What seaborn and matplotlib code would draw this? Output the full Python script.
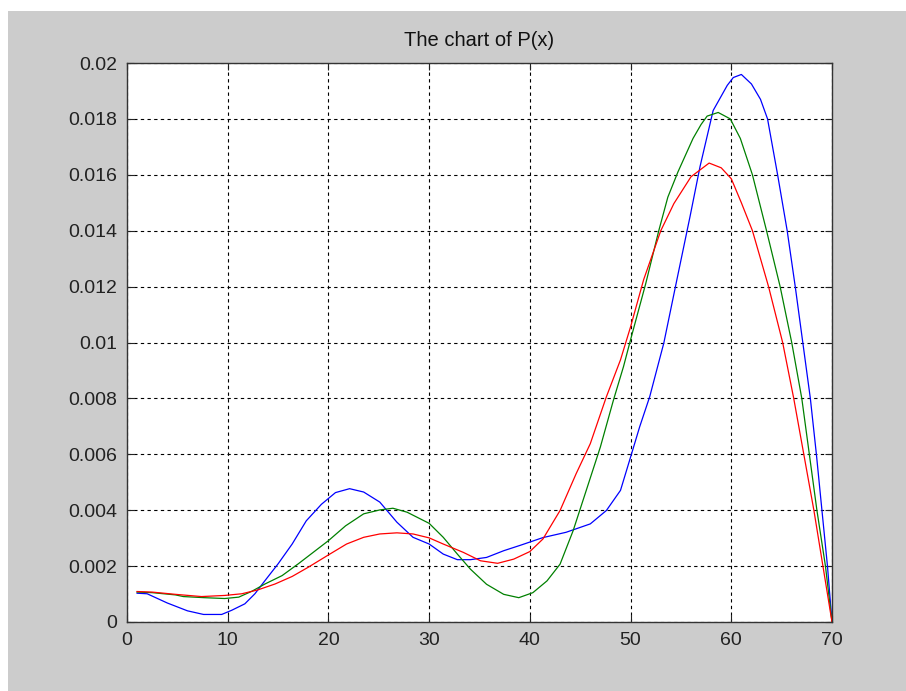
import matplotlib
matplotlib.use("Agg")
import matplotlib.pyplot as plt
from matplotlib.patches import Rectangle
import seaborn as sns
import pandas as pd

title = "The chart of P(x)"

blue_x = [1, 2, 4, 6, 7.6, 9.4, 10.4, 11.7, 12.7, 13.7, 15, 16.4, 17.8, 19.3, 20.7,
          22.1, 23.5, 25.1, 26.8, 28.4, 30, 31.4, 32.8, 34.1, 35.7, 37.4, 39.1, 41.3,
          43.6, 46, 47.6, 49, 50, 50.9, 51.9, 53.3, 54.6, 55.9, 56.9, 58.2, 59.6, 60.2,
          61.0, 62.0, 62.9, 63.6, 64.6, 65.55, 66.35, 67.1, 67.85, 68.45, 69.0, 69.55, 70]
blue_y = [1.03, 1.01, 0.68, 0.40, 0.27, 0.27, 0.42, 0.65, 1.01, 1.48, 2.08, 2.79, 3.62,
          4.21, 4.63, 4.77, 4.65, 4.29, 3.57, 3.03, 2.79, 2.43, 2.23, 2.23, 2.31, 2.55,
          2.75, 3.02, 3.21, 3.51, 3.99, 4.71, 5.9, 6.98, 8.06, 9.98, 12.25, 14.5, 16.3,
          18.3, 19.2, 19.48, 19.59, 19.25, 18.7, 18.0, 16.0, 14.0, 12.0, 10.0, 8.0, 6.0,
          4.0, 2.0, 0.0]

green_x = [1, 2.5, 4.8, 5.6, 7.7, 9.7, 11.1, 12.4, 13.7, 15.4, 17.0, 18.7, 20.0, 21.7,
           23.5, 25.1, 26.4, 27.8, 30, 31.4, 32.8, 34.1, 35.7, 37.4, 38.9, 40.3, 41.7,
           43.0, 44.3, 45.6, 47.0, 48.3, 49.3, 50, 50.9, 51.5, 52.8, 53.7, 54.7, 56.2,
           57.0, 57.6, 58.7, 59.9, 60.9, 62.1, 63.5, 64.85, 66.0, 67.0, 67.75, 68.5,
           69.35, 70]
green_y = [1.07, 1.05, 0.97, 0.91, 0.87, 0.84, 0.89, 1.10, 1.36, 1.66, 2.08, 2.55, 2.91,
           3.44, 3.87, 4.01, 4.07, 3.93, 3.53, 3.03, 2.43, 1.89, 1.35, 0.99, 0.87, 1.05,
           1.47, 2.07, 3.27, 4.71, 6.26, 7.94, 9.14, 10.1, 11.3, 12.1, 14.0, 15.2, 16.1,
           17.3, 17.8, 18.1, 18.23, 18.0, 17.3, 16.0, 14.0, 12.0, 10.0, 8.0, 6.0, 4.0,
           2.0, 0.0]

red_x = [1, 2.5, 4.8, 7.4, 9.7, 11.4, 13.0, 14.7, 16.4, 18.0, 20.0, 21.8, 23.5, 25.1,
         26.8, 28.4, 30, 31.4, 33.4, 35.1, 36.8, 38.4, 40, 41.3, 43.0, 44.6, 46.0, 47.6,
         49.0, 50, 51.3, 53, 54.3, 56, 57.8, 59.0, 60.0, 61.0, 62.1, 63.7, 65.1, 66.2,
         67.2, 68.2, 69.1, 70]
red_y = [1.09, 1.07, 0.99, 0.91, 0.95, 1.01, 1.15, 1.36, 1.63, 1.96, 2.40, 2.79, 3.03,
         3.15, 3.19, 3.15, 3.01, 2.79, 2.49, 2.19, 2.10, 2.25, 2.52, 2.97, 3.99, 5.31,
         6.38, 8.06, 9.38, 10.56, 12.25, 14.0, 14.97, 15.93, 16.42, 16.25, 15.86, 15.0,
         14.0, 12.0, 10.0, 8.0, 6.0, 4.0, 2.0, 0.0]

x_ticks = [0, 10, 20, 30, 40, 50, 60, 70]
y_ticks = [0, 0.002, 0.004, 0.006, 0.008, 0.01, 0.012, 0.014, 0.016, 0.018, 0.02]
y_tick_labels = ["0", "0.002", "0.004", "0.006", "0.008", "0.01", "0.012",
                 "0.014", "0.016", "0.018", "0.02"]

plt.rcParams['font.family'] = ['Liberation Sans', 'DejaVu Sans']

fig = plt.figure(figsize=(9.06, 6.91), dpi=100, facecolor='white')
fig.patches.append(Rectangle((8 / 906, 0), 1 - 8 / 906, 1 - 11 / 691,
                             transform=fig.transFigure, facecolor='#cccccc',
                             edgecolor='none', zorder=-10))
ax = fig.add_axes([127 / 906, 1 - 622 / 691, 705 / 906, 559 / 691])
ax.set_facecolor('white')

series = [(blue_x, blue_y, '#0000ff'), (green_x, green_y, '#008000'),
          (red_x, red_y, '#ff0000')]
for xs, ys, col in series:
    df = pd.DataFrame({'x': xs, 'y': [v / 1000 for v in ys]})
    sns.lineplot(data=df, x='x', y='y', ax=ax, color=col, linewidth=0.9,
                 sort=False, estimator=None, zorder=3)

ax.set_xlim(0, 70)
ax.set_ylim(0, 0.02)
ax.set_xticks(x_ticks)
ax.set_xticklabels([str(t) for t in x_ticks])
ax.set_yticks(y_ticks)
ax.set_yticklabels(y_tick_labels)
ax.set_xlabel('')
ax.set_ylabel('')
ax.grid(True, color='black', linestyle=(0, (3, 3)), linewidth=0.8, zorder=1)
ax.set_axisbelow(True)
ax.tick_params(direction='in', top=True, right=True, length=5, width=0.8,
               labelsize=14, colors='#222222', pad=7)
for s in ax.spines.values():
    s.set_color('#333333')
    s.set_linewidth(1.0)
ax.set_title(title, fontsize=14.5, color='#111111', pad=12)

fig.savefig('out.png', dpi=100, facecolor=fig.get_facecolor())
